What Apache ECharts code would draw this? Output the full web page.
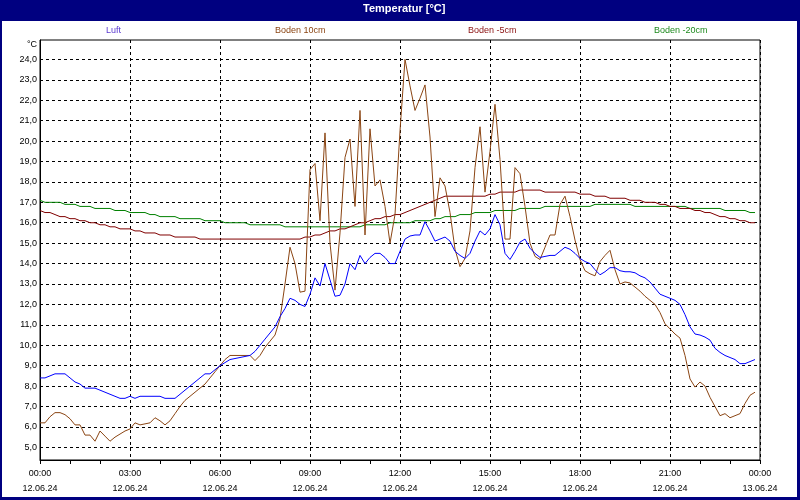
<!DOCTYPE html>
<html>
<head>
<meta charset="utf-8">
<script src="https://cdn.jsdelivr.net/npm/echarts@6/dist/echarts.min.js"></script>
<style>
  html, body { margin: 0; padding: 0; }
  #main { width: 800px; height: 500px; }
</style>
</head>
<body>
<div id="main"></div>
<script>
// Messwerte alle 10 Minuten, 12.06.24 00:00 bis 23:50
var luft = [
  8.4, 8.4, 8.5, 8.6, 8.6, 8.6, 8.4, 8.2, 8.1, 7.9,
  7.9, 7.9, 7.8, 7.7, 7.6, 7.5, 7.4, 7.4, 7.5, 7.4,
  7.5, 7.5, 7.5, 7.5, 7.5, 7.4, 7.4, 7.4, 7.6, 7.8,
  8.0, 8.2, 8.4, 8.6, 8.6, 8.8, 9.0, 9.15, 9.3, 9.35,
  9.4, 9.45, 9.5, 9.7, 10.0, 10.3, 10.6, 10.9, 11.4, 11.8,
  12.3, 12.2, 12.0, 11.9, 12.5, 13.3, 12.9, 14.0, 13.2, 12.4,
  12.45, 13.0, 14.0, 13.7, 14.4, 14.0, 14.3, 14.5, 14.5, 14.3,
  14.0, 14.0, 14.6, 15.2, 15.35, 15.4, 15.4, 16.05, 15.6, 15.1,
  15.2, 15.3, 15.1, 14.6, 14.4, 14.25, 14.5, 15.1, 15.6, 15.4,
  15.7, 16.4, 15.9, 14.5, 14.2, 14.6, 15.05, 15.2, 14.75, 14.5,
  14.3, 14.35, 14.4, 14.4, 14.6, 14.8, 14.7, 14.5, 14.25, 14.1,
  14.0, 13.7, 13.45, 13.6, 13.8, 13.8, 13.65, 13.6, 13.6, 13.55,
  13.4, 13.3, 13.1, 12.8, 12.5, 12.4, 12.3, 12.2, 12.0, 11.5,
  10.9, 10.55, 10.5, 10.4, 10.25, 9.85, 9.65, 9.5, 9.4, 9.3,
  9.1, 9.1, 9.2, 9.3
];
var boden10 = [
  6.2, 6.2, 6.5, 6.7, 6.7, 6.6, 6.4, 6.1, 6.1, 5.6,
  5.6, 5.3, 5.8, 5.55, 5.3, 5.5, 5.65, 5.8, 5.9, 6.2,
  6.1, 6.15, 6.2, 6.45, 6.3, 6.1, 6.3, 6.65, 7.0, 7.3,
  7.5, 7.7, 7.9, 8.1, 8.4, 8.7, 9.0, 9.3, 9.5, 9.5,
  9.5, 9.5, 9.5, 9.25, 9.5, 9.9, 10.2, 10.5, 11.3, 13.0,
  14.8, 14.0, 12.6, 12.65, 18.6, 18.9, 16.1, 20.4, 15.0, 12.7,
  15.5, 19.2, 20.1, 16.8, 21.5, 15.4, 20.6, 17.8, 18.1, 16.8,
  15.0, 16.4, 20.5, 24.0, 22.7, 21.5, 22.1, 22.75, 20.2, 16.3,
  18.2, 17.8, 16.5, 14.7, 13.85, 14.25, 15.6, 18.7, 20.7, 17.5,
  19.5, 21.8, 19.1, 15.2, 15.2, 18.7, 18.4, 16.8, 15.0, 14.35,
  14.2, 14.8, 15.4, 15.4, 16.9, 17.3, 16.3, 15.15, 14.2, 13.65,
  13.5, 13.4, 14.1, 14.4, 14.65, 13.7, 13.0, 13.1, 13.05, 12.85,
  12.65, 12.4, 12.2, 12.0, 11.6, 11.05, 10.8, 10.55, 10.35, 9.5,
  8.35, 7.95, 8.2, 8.0, 7.45, 7.0, 6.55, 6.65, 6.45, 6.55,
  6.65, 7.15, 7.55, 7.7
];
var boden5 = [
  16.6, 16.5, 16.5, 16.4, 16.3, 16.3, 16.2, 16.2, 16.1, 16.1,
  16.0, 16.0, 15.9, 15.9, 15.8, 15.8, 15.7, 15.7, 15.7, 15.6,
  15.6, 15.5, 15.5, 15.5, 15.4, 15.4, 15.4, 15.3, 15.3, 15.3,
  15.3, 15.3, 15.2, 15.2, 15.2, 15.2, 15.2, 15.2, 15.2, 15.2,
  15.2, 15.2, 15.2, 15.2, 15.2, 15.2, 15.2, 15.2, 15.2, 15.2,
  15.2, 15.2, 15.2, 15.3, 15.3, 15.4, 15.4, 15.5, 15.6, 15.6,
  15.7, 15.7, 15.8, 15.9, 16.0, 16.0, 16.1, 16.2, 16.2, 16.3,
  16.3, 16.4, 16.4, 16.5, 16.6, 16.7, 16.8, 16.9, 17.0, 17.1,
  17.2, 17.3, 17.3, 17.3, 17.3, 17.3, 17.3, 17.3, 17.3, 17.3,
  17.4, 17.4, 17.5, 17.5, 17.5, 17.5, 17.6, 17.6, 17.6, 17.6,
  17.6, 17.5, 17.5, 17.5, 17.5, 17.5, 17.5, 17.5, 17.4, 17.4,
  17.4, 17.3, 17.3, 17.3, 17.2, 17.2, 17.2, 17.2, 17.1, 17.1,
  17.1, 17.0, 17.0, 17.0, 16.9, 16.9, 16.8, 16.8, 16.7, 16.7,
  16.7, 16.6, 16.6, 16.5, 16.5, 16.4, 16.3, 16.3, 16.2, 16.2,
  16.1, 16.1, 16.0, 16.0
];
var boden20 = [
  17.1, 17.0, 17.0, 17.0, 17.0, 16.9, 16.9, 16.9, 16.8, 16.8,
  16.8, 16.7, 16.7, 16.7, 16.7, 16.6, 16.6, 16.6, 16.5, 16.5,
  16.5, 16.5, 16.4, 16.4, 16.3, 16.3, 16.3, 16.3, 16.2, 16.2,
  16.2, 16.2, 16.2, 16.1, 16.1, 16.1, 16.1, 16.0, 16.0, 16.0,
  16.0, 16.0, 15.9, 15.9, 15.9, 15.9, 15.9, 15.9, 15.9, 15.8,
  15.8, 15.8, 15.8, 15.8, 15.8, 15.8, 15.8, 15.8, 15.8, 15.8,
  15.8, 15.8, 15.8, 15.8, 15.8, 15.9, 15.9, 15.9, 15.9, 15.9,
  16.0, 16.0, 16.0, 16.0, 16.0, 16.1, 16.1, 16.1, 16.1, 16.2,
  16.2, 16.3, 16.3, 16.3, 16.4, 16.4, 16.4, 16.5, 16.5, 16.5,
  16.5, 16.6, 16.6, 16.6, 16.6, 16.6, 16.7, 16.7, 16.7, 16.7,
  16.7, 16.8, 16.8, 16.8, 16.8, 16.8, 16.8, 16.8, 16.8, 16.8,
  16.8, 16.9, 16.9, 16.9, 16.9, 16.9, 16.9, 16.9, 16.9, 16.8,
  16.8, 16.8, 16.8, 16.8, 16.8, 16.8, 16.8, 16.8, 16.8, 16.8,
  16.7, 16.7, 16.7, 16.7, 16.7, 16.7, 16.7, 16.6, 16.6, 16.6,
  16.6, 16.6, 16.5, 16.5
];
var yTicks = [5, 6, 7, 8, 9, 10, 11, 12, 13, 14, 15, 16, 17, 18, 19, 20, 21, 22, 23, 24];
var seriesNames = ['Luft', 'Boden 10cm', 'Boden -5cm', 'Boden -20cm'];
var seriesColors = ['#0000ff', '#8b4513', '#800000', '#008000'];
var legendColors = ['#5a3ad0', '#8b4513', '#8a1010', '#1e8a1e'];

// Zeitachse: 00:00 bis 00:00 am Folgetag, 10-Minuten-Raster
function pad(n) { return n < 10 ? '0' + n : '' + n; }
var categories = [];
for (var i = 0; i <= 144; i++) {
  var h = Math.floor(i / 6) % 24;
  var m = (i % 6) * 10;
  categories.push(pad(h) + ':' + pad(m) + ' ' + (i < 144 ? '12.06.24' : '13.06.24'));
}

var FONT = '"Liberation Sans", Arial, sans-serif';
var dom = document.getElementById('main');
var myChart = echarts.init(dom, null, { renderer: 'canvas' });

var allData = [luft, boden10, boden5, boden20];
var legendLeft = [101, 270, 463, 649];
var seriesArr = [];
var legends = [];
for (var s = 0; s < allData.length; s++) {
  seriesArr.push({
    name: seriesNames[s],
    type: 'line',
    data: allData[s],
    symbol: 'none',
    smooth: false,
    z: 10 - s,
    lineStyle: { color: seriesColors[s], width: 1 },
    itemStyle: { color: seriesColors[s] }
  });
  legends.push({
    data: [{ name: seriesNames[s], icon: 'none' }],
    left: legendLeft[s],
    top: 24,
    padding: 0,
    itemWidth: 0,
    itemHeight: 14,
    selectedMode: false,
    textStyle: { color: legendColors[s], fontSize: 9, fontFamily: FONT }
  });
}

var option = {
  animation: false,
  backgroundColor: '#000080',
  textStyle: { fontFamily: FONT },
  title: {
    text: 'Temperatur [°C]',
    left: 363,
    top: 3,
    padding: 0,
    textStyle: { color: '#ffffff', fontSize: 11, fontWeight: 'bold', fontFamily: FONT }
  },
  graphic: [
    { type: 'rect', z: -1, silent: true, shape: { x: 2, y: 21, width: 795, height: 476 }, style: { fill: '#ffffff' } },
    { type: 'text', z: 10, silent: true, style: { text: '°C', x: 37, y: 45, align: 'right', verticalAlign: 'middle', fontSize: 9, fontFamily: FONT, fill: '#000' } }
  ],
  legend: legends,
  grid: {
    left: 40,
    right: 40,
    top: 40,
    bottom: 40,
    show: true,
    borderColor: '#000',
    borderWidth: 1,
    containLabel: false,
    outerBoundsMode: 'none'
  },
  xAxis: {
    type: 'category',
    data: categories,
    boundaryGap: false,
    axisLine: { lineStyle: { color: '#000', width: 1 } },
    axisTick: { show: true, interval: 5, length: 4, lineStyle: { color: '#000' } },
    axisLabel: {
      interval: 17,
      margin: 6,
      color: '#000',
      fontSize: 9,
      lineHeight: 15,
      fontFamily: FONT,
      formatter: function (v) {
        var p = v.split(' ');
        return p[0] + '\n' + p[1];
      }
    },
    splitLine: { show: true, interval: 17, lineStyle: { color: '#000', width: 1, type: [3, 3] } }
  },
  yAxis: {
    type: 'value',
    min: 4.38,
    max: 24.95,
    axisLine: { show: true, lineStyle: { color: '#000', width: 1 } },
    axisTick: { show: false, customValues: yTicks },
    axisLabel: {
      customValues: yTicks,
      margin: 3,
      color: '#000',
      fontSize: 9,
      fontFamily: FONT,
      formatter: function (v) { return v.toFixed(1).replace('.', ','); }
    },
    splitLine: { show: true, lineStyle: { color: '#000', width: 1, type: [3, 3] } }
  },
  series: seriesArr
};

myChart.setOption(option, true);
window.onresize = myChart.resize;
</script>
</body>
</html>
